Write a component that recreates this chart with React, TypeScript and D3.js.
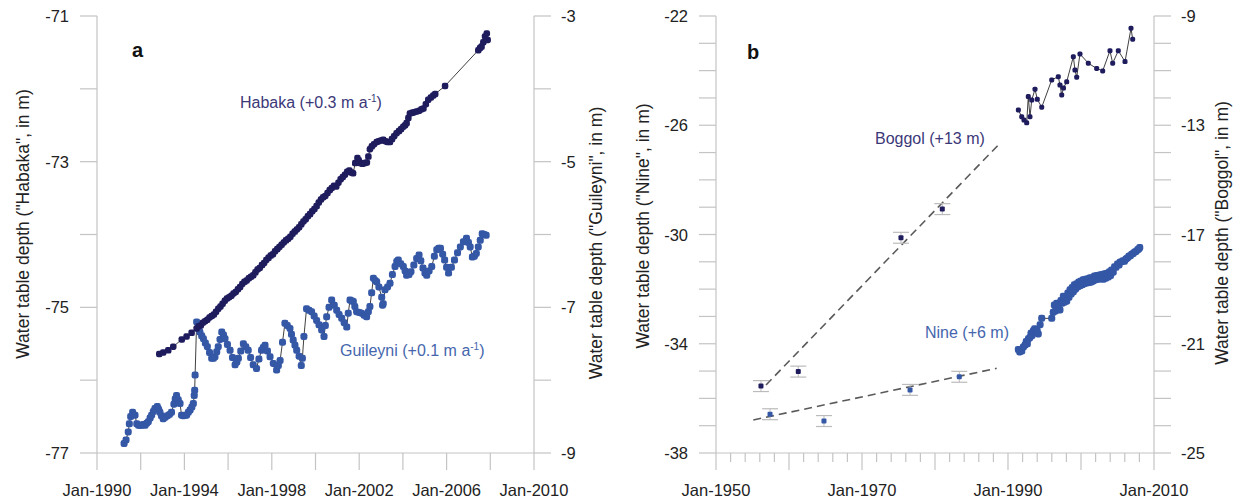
import * as d3 from "d3";

// ---- data ----
// panel a: [decimal year, depth in m]
const habaka: [number, number][] = [
  [1992.85, -75.64], [1993.03, -75.62], [1993.26, -75.59], [1993.49, -75.54], [1993.88, -75.44],
  [1994.10, -75.40], [1994.33, -75.35], [1994.56, -75.29], [1994.65, -75.26], [1994.75, -75.25],
  [1994.85, -75.21], [1994.95, -75.19], [1995.05, -75.17], [1995.15, -75.14], [1995.25, -75.12],
  [1995.35, -75.10], [1995.45, -75.06], [1995.55, -75.02], [1995.65, -74.99], [1995.75, -74.95],
  [1995.85, -74.91], [1995.95, -74.88], [1996.05, -74.86], [1996.15, -74.84], [1996.25, -74.81],
  [1996.35, -74.79], [1996.45, -74.75], [1996.55, -74.72], [1996.65, -74.68], [1996.75, -74.65],
  [1996.85, -74.63], [1996.95, -74.60], [1997.05, -74.58], [1997.15, -74.56], [1997.25, -74.52],
  [1997.35, -74.48], [1997.45, -74.46], [1997.55, -74.42], [1997.65, -74.39], [1997.75, -74.35],
  [1997.85, -74.32], [1997.95, -74.29], [1998.05, -74.27], [1998.15, -74.23], [1998.25, -74.20],
  [1998.35, -74.17], [1998.45, -74.14], [1998.55, -74.11], [1998.65, -74.08], [1998.75, -74.06],
  [1998.85, -74.03], [1998.95, -73.99], [1999.05, -73.96], [1999.15, -73.93], [1999.25, -73.90],
  [1999.35, -73.86], [1999.45, -73.82], [1999.55, -73.79], [1999.65, -73.75], [1999.75, -73.72],
  [1999.85, -73.68], [1999.95, -73.65], [2000.05, -73.61], [2000.15, -73.56], [2000.25, -73.52],
  [2000.35, -73.49], [2000.45, -73.47], [2000.55, -73.43], [2000.65, -73.39], [2000.75, -73.36],
  [2000.85, -73.33], [2000.95, -73.34], [2001.05, -73.29], [2001.15, -73.24], [2001.25, -73.21],
  [2001.35, -73.18], [2001.45, -73.14], [2001.55, -73.12], [2001.65, -73.15], [2001.72, -73.16],
  [2001.82, -73.02], [2001.92, -72.95], [2001.98, -72.98], [2002.05, -73.02], [2002.15, -73.03],
  [2002.25, -73.02], [2002.35, -73.01], [2002.42, -72.93], [2002.49, -72.83], [2002.58, -72.79],
  [2002.68, -72.76], [2002.80, -72.73], [2002.90, -72.72], [2003.00, -72.71], [2003.10, -72.70],
  [2003.20, -72.72], [2003.30, -72.73], [2003.41, -72.73], [2003.50, -72.69], [2003.60, -72.65],
  [2003.71, -72.61], [2003.82, -72.58], [2003.92, -72.55], [2004.02, -72.52], [2004.10, -72.50],
  [2004.17, -72.47], [2004.25, -72.40], [2004.32, -72.34], [2004.42, -72.33], [2004.52, -72.32],
  [2004.63, -72.31], [2004.75, -72.30], [2004.85, -72.28], [2004.94, -72.27], [2005.05, -72.21],
  [2005.16, -72.15], [2005.28, -72.12], [2005.39, -72.09], [2005.48, -72.07], [2005.93, -71.96],
  [2007.45, -71.47], [2007.53, -71.44], [2007.60, -71.42], [2007.68, -71.36], [2007.76, -71.28],
  [2007.84, -71.24], [2007.88, -71.33],
];

const guileyni: [number, number][] = [
  [1991.24, -8.87], [1991.33, -8.82], [1991.43, -8.71], [1991.48, -8.60], [1991.54, -8.50],
  [1991.63, -8.44], [1991.74, -8.48], [1991.82, -8.60], [1991.90, -8.62], [1991.97, -8.62],
  [1992.05, -8.62], [1992.12, -8.61], [1992.20, -8.62], [1992.28, -8.59], [1992.35, -8.57],
  [1992.43, -8.52], [1992.50, -8.48], [1992.58, -8.43], [1992.65, -8.39], [1992.76, -8.36],
  [1992.82, -8.40], [1992.88, -8.44], [1992.95, -8.49], [1993.03, -8.53], [1993.12, -8.51],
  [1993.22, -8.49], [1993.32, -8.47], [1993.41, -8.44], [1993.52, -8.33], [1993.58, -8.26],
  [1993.64, -8.21], [1993.72, -8.27], [1993.80, -8.32], [1993.87, -8.48], [1993.95, -8.49],
  [1994.03, -8.48], [1994.10, -8.48], [1994.18, -8.44], [1994.26, -8.41], [1994.34, -8.37],
  [1994.41, -8.32], [1994.45, -8.21], [1994.47, -8.14], [1994.49, -7.93], [1994.56, -7.20],
  [1994.63, -7.28], [1994.71, -7.34], [1994.79, -7.39], [1994.87, -7.43], [1994.96, -7.49],
  [1995.05, -7.54], [1995.15, -7.62], [1995.25, -7.70], [1995.33, -7.70], [1995.40, -7.68],
  [1995.48, -7.61], [1995.55, -7.54], [1995.63, -7.44], [1995.71, -7.34], [1995.79, -7.38],
  [1995.86, -7.43], [1995.97, -7.51], [1996.09, -7.59], [1996.20, -7.69], [1996.32, -7.79],
  [1996.40, -7.75], [1996.47, -7.70], [1996.58, -7.60], [1996.70, -7.50], [1996.81, -7.54],
  [1996.92, -7.59], [1997.03, -7.69], [1997.15, -7.79], [1997.30, -7.84], [1997.41, -7.71],
  [1997.53, -7.59], [1997.61, -7.55], [1997.69, -7.52], [1997.80, -7.60], [1997.92, -7.68],
  [1998.07, -7.77], [1998.22, -7.86], [1998.30, -7.80], [1998.38, -7.73], [1998.49, -7.48],
  [1998.60, -7.22], [1998.71, -7.25], [1998.83, -7.29], [1998.90, -7.37], [1998.98, -7.45],
  [1999.06, -7.52], [1999.14, -7.59], [1999.25, -7.67], [1999.35, -7.80], [1999.40, -7.70],
  [1999.47, -7.40], [1999.59, -7.02], [1999.70, -7.04], [1999.82, -7.06], [1999.94, -7.12],
  [2000.05, -7.18], [2000.16, -7.24], [2000.28, -7.31], [2000.39, -7.40], [2000.45, -7.25],
  [2000.51, -7.13], [2000.62, -7.00], [2000.74, -6.90], [2000.86, -6.97], [2000.97, -7.04],
  [2001.08, -7.10], [2001.20, -7.15], [2001.31, -7.21], [2001.43, -7.27], [2001.50, -7.08],
  [2001.58, -6.90], [2001.65, -6.91], [2001.73, -6.92], [2001.80, -6.99], [2001.88, -7.06],
  [2002.00, -7.07], [2002.11, -7.08], [2002.23, -7.11], [2002.34, -7.13], [2002.42, -7.06],
  [2002.49, -6.99], [2002.57, -6.80], [2002.65, -6.60], [2002.73, -6.63], [2002.80, -6.65],
  [2002.90, -6.72], [2003.03, -6.86], [2003.07, -6.97], [2003.10, -6.95], [2003.18, -6.76],
  [2003.30, -6.72], [2003.41, -6.67], [2003.52, -6.55], [2003.64, -6.44], [2003.72, -6.37],
  [2003.79, -6.35], [2003.90, -6.40], [2004.02, -6.44], [2004.10, -6.50], [2004.17, -6.56],
  [2004.28, -6.55], [2004.37, -6.51], [2004.50, -6.42], [2004.63, -6.33], [2004.74, -6.28],
  [2004.82, -6.36], [2004.92, -6.46], [2005.01, -6.53], [2005.09, -6.56], [2005.20, -6.50],
  [2005.32, -6.44], [2005.44, -6.30], [2005.55, -6.21], [2005.64, -6.19], [2005.72, -6.19],
  [2005.82, -6.27], [2005.91, -6.35], [2006.00, -6.45], [2006.09, -6.53], [2006.22, -6.45],
  [2006.36, -6.35], [2006.50, -6.25], [2006.63, -6.17], [2006.77, -6.10], [2006.91, -6.05],
  [2007.00, -6.11], [2007.08, -6.17], [2007.18, -6.31], [2007.27, -6.30], [2007.36, -6.26],
  [2007.45, -6.17], [2007.54, -6.08], [2007.63, -5.99], [2007.72, -6.00], [2007.81, -6.01],
];

// panel b
const boggol: [number, number][] = [
  [1991.42, -12.44], [1991.88, -12.69], [1992.19, -12.81], [1992.56, -12.91], [1992.78, -11.95],
  [1993.01, -12.69], [1993.25, -12.08], [1993.70, -11.68], [1994.01, -12.05], [1994.62, -12.34],
  [1995.99, -11.34], [1996.89, -11.22], [1997.12, -11.53], [1997.36, -11.89], [1997.60, -11.64],
  [1998.04, -11.41], [1998.95, -10.49], [1999.18, -10.98], [1999.41, -11.24], [1999.86, -10.39],
  [2001.00, -10.73], [2002.15, -10.92], [2002.97, -11.01], [2003.97, -10.27], [2004.34, -10.73],
  [2005.11, -10.27], [2006.03, -10.67], [2006.85, -9.45], [2007.08, -9.85],
];

const nine: [number, number][] = [
  [1991.42, -34.21], [1991.60, -34.30], [1991.88, -34.27], [1992.10, -34.12], [1992.33, -34.05],
  [1992.50, -33.92], [1992.65, -34.00], [1992.80, -33.82], [1993.01, -33.77], [1993.15, -33.62],
  [1993.30, -33.70], [1993.47, -33.52], [1993.65, -33.45], [1993.84, -33.56], [1994.00, -33.52],
  [1994.15, -33.64], [1994.40, -33.30], [1994.62, -33.07], [1995.99, -33.07], [1996.20, -32.85],
  [1996.35, -32.58], [1996.50, -32.80], [1996.67, -32.52], [1996.80, -32.74], [1996.95, -32.55],
  [1997.12, -32.76], [1997.25, -32.42], [1997.40, -32.52], [1997.58, -32.26], [1997.70, -32.48],
  [1997.85, -32.28], [1998.04, -32.44], [1998.20, -32.14], [1998.35, -32.30], [1998.50, -32.02],
  [1998.65, -32.18], [1998.80, -31.94], [1998.95, -32.10], [1999.10, -31.84], [1999.25, -32.00],
  [1999.41, -31.80], [1999.55, -31.92], [1999.70, -31.74], [1999.85, -31.88], [2000.00, -31.70],
  [2000.15, -31.84], [2000.30, -31.66], [2000.45, -31.80], [2000.60, -31.64], [2000.78, -31.78],
  [2000.95, -31.62], [2001.10, -31.76], [2001.25, -31.58], [2001.40, -31.74], [2001.55, -31.58],
  [2001.69, -31.70], [2001.85, -31.52], [2002.00, -31.66], [2002.20, -31.50], [2002.37, -31.64],
  [2002.55, -31.48], [2002.70, -31.62], [2002.88, -31.46], [2003.06, -31.64], [2003.25, -31.44],
  [2003.40, -31.60], [2003.58, -31.42], [2003.74, -31.56], [2003.90, -31.36], [2004.05, -31.50],
  [2004.20, -31.30], [2004.42, -31.38], [2004.60, -31.18], [2004.80, -31.20], [2005.00, -31.08],
  [2005.20, -31.12], [2005.34, -31.02], [2005.55, -31.00], [2005.75, -30.96], [2005.95, -30.98],
  [2006.15, -30.90], [2006.35, -30.86], [2006.55, -30.80], [2006.75, -30.78], [2006.95, -30.72],
  [2007.15, -30.70], [2007.35, -30.64], [2007.55, -30.62], [2007.75, -30.56], [2007.90, -30.53],
  [2008.05, -30.48],
];

// old surveys with error bars (year, depth, +/- error)
const boggolOld: [number, number, number][] = [
  [1956.16, -22.55, 0.2], [1961.27, -22.02, 0.2], [1975.34, -17.12, 0.2], [1981.0, -16.07, 0.2],
];
const nineOld: [number, number, number][] = [
  [1957.4, -36.58, 0.2], [1964.79, -36.83, 0.2], [1976.58, -35.69, 0.2], [1983.33, -35.21, 0.2],
];
// dashed trend lines
const boggolTrend: [number, number][] = [[1956.85, -22.51], [1988.9, -13.66]];
const nineTrend: [number, number][] = [[1955.11, -36.79], [1988.45, -34.9]];

// axes
const aYears = [1990, 1992, 1994, 1996, 1998, 2000, 2002, 2004, 2006, 2008, 2010];
const aYearLabels = [1990, 1994, 1998, 2002, 2006, 2010];
const aLeftTicks = [-71, -72, -73, -74, -75, -76, -77];
const aLeftLabels = [-71, -73, -75, -77];
const aRightTicks = [-3, -4, -5, -6, -7, -8, -9];
const aRightLabels = [-3, -5, -7, -9];
const bYears = [1950, 1952, 1954, 1956, 1958, 1960, 1962, 1964, 1966, 1968, 1970, 1972, 1974, 1976, 1978,
  1980, 1982, 1984, 1986, 1988, 1990, 1992, 1994, 1996, 1998, 2000, 2002, 2004, 2006, 2008, 2010];
const bYearMajor = [1950, 1960, 1970, 1980, 1990, 2000, 2010];
const bYearLabels = [1950, 1970, 1990, 2010];
const bLeftTicks = [-22, -23, -24, -25, -26, -27, -28, -29, -30, -31, -32, -33, -34, -35, -36, -37, -38];
const bLeftLabels = [-22, -26, -30, -34, -38];
const bRightTicks = [-9, -10, -11, -12, -13, -14, -15, -16, -17, -18, -19, -20, -21, -22, -23, -24, -25];
const bRightLabels = [-9, -13, -17, -21, -25];

const FONT = "'Liberation Sans', Arial, Helvetica, sans-serif";
const NAVY = "#1f1c5e";
const BLUE = "#3457a6";
const AXIS = "#c4c4c4";
const TXT = "#222";

const TOP = 16, BOT = 453, TICK = 17;

function Panel({x0, x1, years, majorYears, yearLabels, xDomain, lDomain, rDomain,
                 lTicks, lLabels, rTicks, rLabels, lTitle, rTitle, lTitleX, lTitleY, rTitleX, rTitleY,
                 letter, children}: any) {
  const x = d3.scaleLinear().domain(xDomain).range([x0, x1]);
  const yl = d3.scaleLinear().domain(lDomain).range([TOP, BOT]);
  const yr = d3.scaleLinear().domain(rDomain).range([TOP, BOT]);
  return (
    <g>
      {/* axis lines */}
      <line x1={x0} x2={x0} y1={TOP} y2={BOT} stroke={AXIS} strokeWidth={1.2}/>
      <line x1={x1} x2={x1} y1={TOP} y2={BOT} stroke={AXIS} strokeWidth={1.2}/>
      <line x1={x0} x2={x1} y1={BOT} y2={BOT} stroke={AXIS} strokeWidth={1.2}/>
      {years.map((yv: number) => {
        const major = majorYears.includes(yv);
        return <line key={"xt" + yv} x1={x(yv)} x2={x(yv)} y1={BOT} y2={BOT + (major ? TICK : 9)}
                     stroke={AXIS} strokeWidth={1.2}/>;
      })}
      {yearLabels.map((yv: number) => (
        <text key={"xl" + yv} x={x(yv)} y={496} textAnchor="middle" fontSize={16.5} fill={TXT}>
          {"Jan-" + yv}
        </text>
      ))}
      {lTicks.map((v: number) => (
        <line key={"lt" + v} x1={x0 - TICK} x2={x0} y1={yl(v)} y2={yl(v)} stroke={AXIS} strokeWidth={1.2}/>
      ))}
      {lLabels.map((v: number) => (
        <text key={"ll" + v} x={x0 - TICK - 11} y={yl(v) + 6} textAnchor="end" fontSize={16.5} fill={TXT}>{v}</text>
      ))}
      {rTicks.map((v: number) => (
        <line key={"rt" + v} x1={x1} x2={x1 + TICK} y1={yr(v)} y2={yr(v)} stroke={AXIS} strokeWidth={1.2}/>
      ))}
      {rLabels.map((v: number) => (
        <text key={"rl" + v} x={x1 + TICK + 10} y={yr(v) + 6} textAnchor="start" fontSize={16.5} fill={TXT}>{v}</text>
      ))}
      <text transform={`translate(${lTitleX},${lTitleY}) rotate(-90)`} textAnchor="middle" dy="0.35em"
            fontSize={17.5} fill={TXT}>{lTitle}</text>
      <text transform={`translate(${rTitleX},${rTitleY}) rotate(-90)`} textAnchor="middle" dy="0.35em"
            fontSize={17.5} fill={TXT}>{rTitle}</text>
      <text x={letter[1]} y={letter[2]} fontSize={20} fontWeight="bold" fill="#111">{letter[0]}</text>
      {children(x, yl, yr)}
    </g>
  );
}

function Series({data, x, y, color, size}: any) {
  const line = d3.line<[number, number]>().x(d => x(d[0])).y(d => y(d[1]));
  return (
    <g>
      <path d={line(data) || ""} fill="none" stroke="#2a2a2a" strokeWidth={0.9}/>
      {data.map((d: [number, number], i: number) => (
        <rect key={i} x={x(d[0]) - size / 2} y={y(d[1]) - size / 2} width={size} height={size}
              rx={size / 3} fill={color}/>
      ))}
    </g>
  );
}

function OldPoints({data, x, y, color}: any) {
  return (
    <g>
      {data.map((d: [number, number, number], i: number) => {
        const cx = x(d[0]);
        return (
          <g key={i}>
            <line x1={cx} x2={cx} y1={y(d[1] + d[2])} y2={y(d[1] - d[2])} stroke="#bbb" strokeWidth={1}/>
            <line x1={cx - 8} x2={cx + 8} y1={y(d[1] + d[2])} y2={y(d[1] + d[2])} stroke="#bbb" strokeWidth={1.2}/>
            <line x1={cx - 8} x2={cx + 8} y1={y(d[1] - d[2])} y2={y(d[1] - d[2])} stroke="#bbb" strokeWidth={1.2}/>
            <rect x={cx - 2.5} y={y(d[1]) - 2.5} width={5} height={5} rx={1} fill={color}/>
          </g>
        );
      })}
    </g>
  );
}

function Trend({data, x, y}: any) {
  const line = d3.line<[number, number]>().x(d => x(d[0])).y(d => y(d[1]));
  return <path d={line(data) || ""} fill="none" stroke="#5a5a5a" strokeWidth={1.6} strokeDasharray="8,5"/>;
}

export default function App() {
  return (
    <svg width={1239} height={499} style={{position: "absolute", left: 0, top: 0, background: "#fff"}}
         fontFamily={FONT}>
      <rect width={1239} height={499} fill="#fff"/>
      <Panel x0={97} x1={534} years={aYears} majorYears={aYears} yearLabels={aYearLabels}
             xDomain={[1990, 2010]} lDomain={[-71, -77]} rDomain={[-3, -9]}
             lTicks={aLeftTicks} lLabels={aLeftLabels} rTicks={aRightTicks} rLabels={aRightLabels}
             lTitle={'Water table depth ("Habaka", in m)'} rTitle={'Water table depth ("Guileyni", in m)'}
             lTitleX={23} lTitleY={224} rTitleX={596} rTitleY={243} letter={["a", 132, 57]}>
        {(x: any, yl: any, yr: any) => (
          <g>
            <Series data={guileyni} x={x} y={yr} color={BLUE} size={7}/>
            <Series data={habaka} x={x} y={yl} color={NAVY} size={6.5}/>
            <text x={240} y={108} fontSize={16} fill="#3b3878">
              Habaka (+0.3 m a<tspan fontSize={10} dy={-6}>-1</tspan><tspan dy={6}>)</tspan>
            </text>
            <text x={340} y={356} fontSize={16} fill="#4566ad">
              Guileyni (+0.1 m a<tspan fontSize={10} dy={-6}>-1</tspan><tspan dy={6}>)</tspan>
            </text>
          </g>
        )}
      </Panel>
      <Panel x0={716} x1={1154} years={bYears} majorYears={bYearMajor} yearLabels={bYearLabels}
             xDomain={[1950, 2010]} lDomain={[-22, -38]} rDomain={[-9, -25]}
             lTicks={bLeftTicks} lLabels={bLeftLabels} rTicks={bRightTicks} rLabels={bRightLabels}
             lTitle={'Water table depth ("Nine", in m)'} rTitle={'Water table depth ("Boggol", in m)'}
             lTitleX={643} lTitleY={226} rTitleX={1222} rTitleY={233} letter={["b", 747, 59]}>
        {(x: any, yl: any, yr: any) => (
          <g>
            <Trend data={boggolTrend} x={x} y={yr}/>
            <Trend data={nineTrend} x={x} y={yl}/>
            <OldPoints data={boggolOld} x={x} y={yr} color={NAVY}/>
            <OldPoints data={nineOld} x={x} y={yl} color={BLUE}/>
            <Series data={nine} x={x} y={yl} color={BLUE} size={7}/>
            <Series data={boggol} x={x} y={yr} color={NAVY} size={5}/>
            <text x={875} y={144} fontSize={16} fill="#3b3878">Boggol (+13 m)</text>
            <text x={925} y={338} fontSize={16} fill="#4566ad">Nine (+6 m)</text>
          </g>
        )}
      </Panel>
    </svg>
  );
}
